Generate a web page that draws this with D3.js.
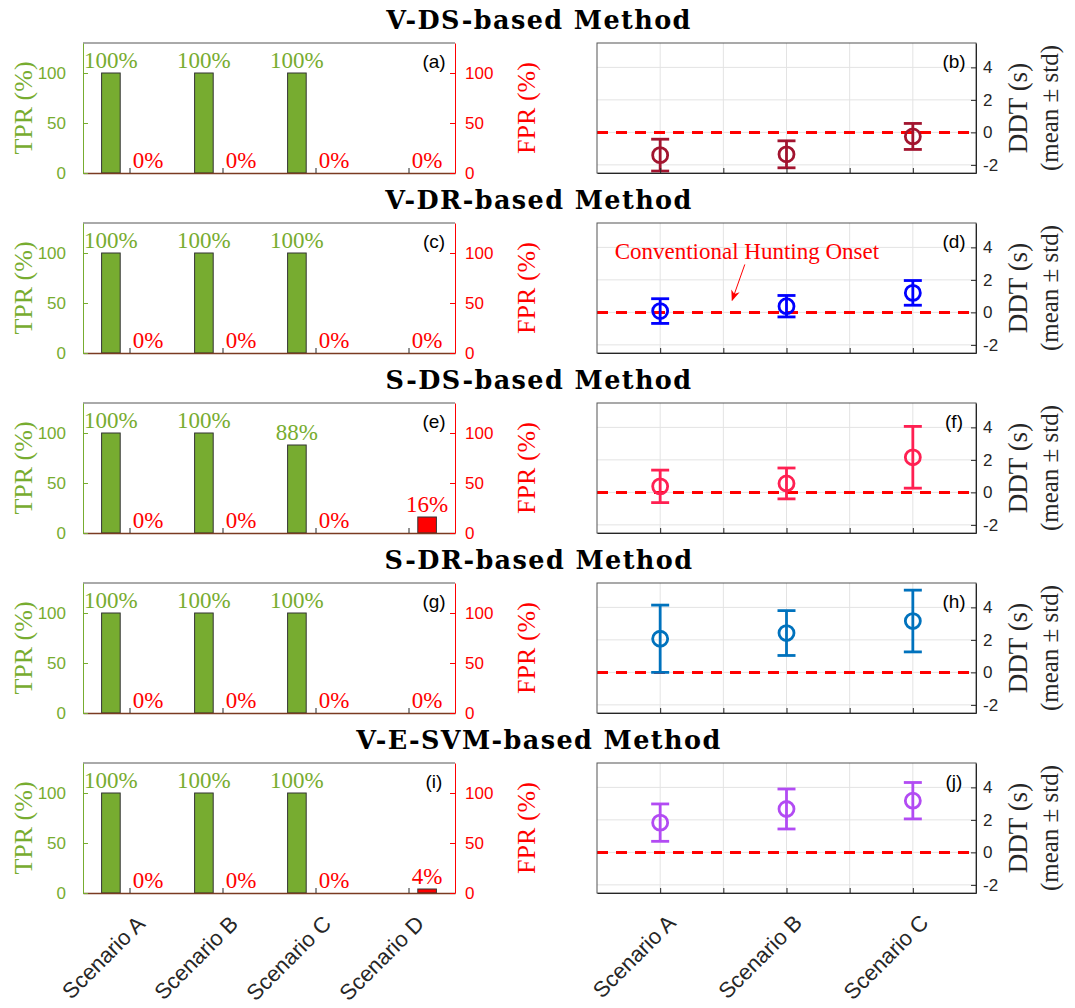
<!DOCTYPE html>
<html>
<head>
<meta charset="utf-8">
<script src="https://cdn.jsdelivr.net/npm/d3@7"></script>
<style>
  body { margin: 0; background: #fff; }
  svg { display: block; }
  .serif { font-family: "Liberation Serif", "DejaVu Serif", serif; }
  .title { font-family: "DejaVu Serif", "Liberation Serif", serif; font-weight: bold; letter-spacing: 1.4px; }
  .sans { font-family: "Liberation Sans", Arial, sans-serif; }
</style>
</head>
<body>
<div id="vis"></div>
<script>
// ---- data ----
var methods = ["V-DS-based Method", "V-DR-based Method", "S-DS-based Method",
               "S-DR-based Method", "V-E-SVM-based Method"];
var panelTags = [["(a)", "(b)"], ["(c)", "(d)"], ["(e)", "(f)"], ["(g)", "(h)"], ["(i)", "(j)"]];
var scenarios = ["Scenario A", "Scenario B", "Scenario C", "Scenario D"];
var ddtScenarios = ["Scenario A", "Scenario B", "Scenario C"];

// TPR / FPR in %, null = no detection case (drawn flat, no label)
var tpr = [
  [100, 100, 100, null],
  [100, 100, 100, null],
  [100, 100, 88, null],
  [100, 100, 100, null],
  [100, 100, 100, null]
];
var fpr = [
  [0, 0, 0, 0],
  [0, 0, 0, 0],
  [0, 0, 0, 16],
  [0, 0, 0, 0],
  [0, 0, 0, 4]
];

// detection delay time (s), mean and std
var ddtMean = [
  [-1.4, -1.35, -0.25],
  [0.08, 0.38, 1.2],
  [0.37, 0.55, 2.16],
  [2.07, 2.42, 3.16],
  [1.83, 2.67, 3.18]
];
var ddtStd = [
  [0.98, 0.83, 0.8],
  [0.76, 0.66, 0.76],
  [1.0, 0.95, 1.9],
  [2.07, 1.38, 1.9],
  [1.15, 1.23, 1.12]
];
var ddtColors = ["#A2142F", "#0000FF", "#FF2052", "#0072BD", "#B24BF3"];

var rateTicks = [0, 50, 100];
var ddtTicks = [-2, 0, 2, 4];
var ddtGridX = [1, 1.5, 2, 2.5, 3];
var onsetLevel = 0;

// annotation in panel (d), data units
var note = { text: "Conventional Hunting Onset", x: 0.64, y: 3.3, from: [1.67, 2.95], to: [1.57, 0.75] };

// ---- layout ----
var W = 1075, H = 1008;
var green = "#77AC30", red = "#FF0000", axisGray = "#262626";
var panelH = 130, firstTop = 43, step = 180;

var svg = d3.select("#vis").append("svg").attr("width", W).attr("height", H);
svg.append("rect").attr("width", W).attr("height", H).attr("fill", "#fff");

var defs = svg.append("defs");
defs.append("marker").attr("id", "arrowHead")
  .attr("viewBox", "0 0 10 10").attr("refX", 9).attr("refY", 5)
  .attr("markerUnits", "userSpaceOnUse")
  .attr("markerWidth", 11).attr("markerHeight", 11).attr("orient", "auto")
  .append("path").attr("d", "M0,1 L10,5 L0,9 L3,5 Z").attr("fill", red);

var xBar = d3.scaleLinear().domain([0.5, 4.5]).range([83, 455]);
var xDdt = d3.scaleLinear().domain([0.5, 3.5]).range([597, 976]);
var barW = xBar(1.2) - xBar(1);

methods.forEach(function(title, i) {
  var top = firstTop + i * step, bottom = top + panelH;
  var last = i === methods.length - 1;

  svg.append("text").attr("class", "title")
    .attr("x", 539).attr("y", top - 14)
    .attr("text-anchor", "middle").attr("font-size", 25.5)
    .attr("fill", "#000").text(title);

  // ---------- left: TPR / FPR bars ----------
  var yRate = d3.scaleLinear().domain([0, 130]).range([bottom, top]);
  var gL = svg.append("g");

  var bars = [];
  scenarios.forEach(function(s, j) {
    bars.push({ x: j + 1 - 0.2, v: tpr[i][j], kind: "tpr" });
    bars.push({ x: j + 1 + 0.2, v: fpr[i][j], kind: "fpr" });
  });

  gL.selectAll("rect.bar").data(bars).enter().append("rect")
    .attr("class", "bar")
    .attr("x", function(d) { return xBar(d.x) - barW / 2; })
    .attr("width", barW)
    .attr("y", function(d) { return yRate(d.v || 0); })
    .attr("height", function(d) { return yRate(0) - yRate(d.v || 0); })
    .attr("fill", function(d) { return d.kind === "tpr" ? green : red; })
    .attr("stroke", "#333").attr("stroke-width", 1);

  gL.selectAll("text.pct").data(bars.filter(function(d) { return d.v !== null; }))
    .enter().append("text").attr("class", "serif")
    .attr("x", function(d) { return xBar(d.x); })
    .attr("y", function(d) { return yRate(d.v) - 5; })
    .attr("text-anchor", "middle").attr("font-size", 23)
    .attr("fill", function(d) { return d.kind === "tpr" ? green : red; })
    .text(function(d) { return d.v + "%"; });

  // top frame line
  gL.append("line").attr("x1", 83).attr("x2", 455).attr("y1", top).attr("y2", top)
    .attr("stroke", "#555").attr("stroke-width", 1);

  var bx = gL.append("g").attr("transform", "translate(0," + bottom + ")")
    .call(d3.axisBottom(xBar).tickValues([1, 2, 3, 4]).tickSize(-5).tickSizeOuter(0).tickFormat(""));
  bx.select(".domain").attr("stroke", "#7a3b22").attr("stroke-width", 1.5);
  bx.selectAll(".tick line").attr("stroke", axisGray);

  var ax = gL.append("g").attr("transform", "translate(83,0)")
    .call(d3.axisLeft(yRate).tickValues(rateTicks).tickSize(-5).tickSizeOuter(0).tickPadding(17));
  ax.select(".domain").attr("stroke", green);
  ax.selectAll(".tick line").attr("stroke", green);
  ax.selectAll(".tick text").attr("class", "sans").attr("font-size", 17).attr("fill", green);

  var ay = gL.append("g").attr("transform", "translate(455,0)")
    .call(d3.axisRight(yRate).tickValues(rateTicks).tickSize(-5).tickSizeOuter(0).tickPadding(10));
  ay.select(".domain").attr("stroke", red);
  ay.selectAll(".tick line").attr("stroke", red);
  ay.selectAll(".tick text").attr("class", "sans").attr("font-size", 17).attr("fill", red);

  gL.append("text").attr("class", "serif")
    .attr("transform", "translate(32," + (top + panelH / 2) + ") rotate(-90)")
    .attr("text-anchor", "middle").attr("font-size", 26).attr("fill", green).text("TPR (%)");
  gL.append("text").attr("class", "serif")
    .attr("transform", "translate(535," + (top + panelH / 2) + ") rotate(-90)")
    .attr("text-anchor", "middle").attr("font-size", 26).attr("fill", red).text("FPR (%)");

  gL.append("text").attr("class", "sans")
    .attr("x", 434).attr("y", top + 25).attr("text-anchor", "middle")
    .attr("font-size", 19).attr("fill", "#000").text(panelTags[i][0]);

  if (last) {
    gL.selectAll("text.scen").data(scenarios).enter().append("text").attr("class", "sans")
      .attr("transform", function(d, j) {
        return "translate(" + (xBar(j + 1) + 17) + "," + (bottom + 32) + ") rotate(-45)";
      })
      .attr("text-anchor", "end").attr("font-size", 22).attr("fill", axisGray).text(function(d) { return d; });
  }

  // ---------- right: DDT error bars ----------
  var yDdt = d3.scaleLinear().domain([-2.5, 5.5]).range([bottom, top]);
  var gR = svg.append("g");

  gR.selectAll("line.gx").data(ddtGridX).enter().append("line")
    .attr("x1", function(d) { return xDdt(d); }).attr("x2", function(d) { return xDdt(d); })
    .attr("y1", top).attr("y2", bottom).attr("stroke", "#e3e3e3").attr("stroke-width", 1);
  gR.selectAll("line.gy").data(ddtTicks).enter().append("line")
    .attr("x1", xDdt(0.5)).attr("x2", xDdt(3.5))
    .attr("y1", function(d) { return yDdt(d); }).attr("y2", function(d) { return yDdt(d); })
    .attr("stroke", "#e3e3e3").attr("stroke-width", 1);

  gR.append("line").attr("x1", xDdt(0.5)).attr("x2", xDdt(3.5))
    .attr("y1", yDdt(onsetLevel)).attr("y2", yDdt(onsetLevel))
    .attr("stroke", red).attr("stroke-width", 3).attr("stroke-dasharray", "11,8");

  var pts = ddtScenarios.map(function(s, j) {
    return { x: j + 1, m: ddtMean[i][j], s: ddtStd[i][j] };
  });
  var col = ddtColors[i];
  var eb = gR.selectAll("g.eb").data(pts).enter().append("g");
  eb.append("line")
    .attr("x1", function(d) { return xDdt(d.x); }).attr("x2", function(d) { return xDdt(d.x); })
    .attr("y1", function(d) { return yDdt(d.m - d.s); }).attr("y2", function(d) { return yDdt(d.m + d.s); })
    .attr("stroke", col).attr("stroke-width", 2.8);
  [-1, 1].forEach(function(sgn) {
    eb.append("line")
      .attr("x1", function(d) { return xDdt(d.x) - 9; }).attr("x2", function(d) { return xDdt(d.x) + 9; })
      .attr("y1", function(d) { return yDdt(d.m + sgn * d.s); }).attr("y2", function(d) { return yDdt(d.m + sgn * d.s); })
      .attr("stroke", col).attr("stroke-width", 2.8);
  });
  eb.append("circle")
    .attr("cx", function(d) { return xDdt(d.x); }).attr("cy", function(d) { return yDdt(d.m); })
    .attr("r", 7.5).attr("fill", "none").attr("stroke", col).attr("stroke-width", 2.8);

  gR.append("rect").attr("x", xDdt(0.5)).attr("y", top)
    .attr("width", xDdt(3.5) - xDdt(0.5)).attr("height", panelH)
    .attr("fill", "none").attr("stroke", "#555").attr("stroke-width", 1);

  var rb = gR.append("g").attr("transform", "translate(0," + bottom + ")")
    .call(d3.axisBottom(xDdt).tickValues(ddtGridX).tickSize(-5).tickSizeOuter(0).tickFormat(""));
  rb.select(".domain").attr("stroke", axisGray);
  rb.selectAll(".tick line").attr("stroke", axisGray);

  var ry = gR.append("g").attr("transform", "translate(" + xDdt(3.5) + ",0)")
    .call(d3.axisRight(yDdt).tickValues(ddtTicks).tickSize(-5).tickSizeOuter(0).tickPadding(7)
      .tickFormat(function(d) { return String(d); }));
  ry.select(".domain").attr("stroke", axisGray);
  ry.selectAll(".tick line").attr("stroke", axisGray);
  ry.selectAll(".tick text").attr("class", "sans").attr("font-size", 17).attr("fill", axisGray);

  gR.append("text").attr("class", "sans")
    .attr("x", 954).attr("y", top + 25).attr("text-anchor", "middle")
    .attr("font-size", 19).attr("fill", "#000").text(panelTags[i][1]);

  gR.append("text").attr("class", "serif")
    .attr("transform", "translate(1027," + (top + panelH / 2) + ") rotate(-90)")
    .attr("text-anchor", "middle").attr("font-size", 27).attr("fill", axisGray).text("DDT (s)");
  gR.append("text").attr("class", "serif")
    .attr("transform", "translate(1058," + (top + panelH / 2) + ") rotate(-90)")
    .attr("text-anchor", "middle").attr("font-size", 25).attr("fill", axisGray).text("(mean \u00b1 std)");

  if (i === 1) {
    gR.append("text").attr("class", "serif")
      .attr("x", xDdt(note.x)).attr("y", yDdt(note.y))
      .attr("font-size", 23).attr("fill", red).text(note.text);
    gR.append("line")
      .attr("x1", xDdt(note.from[0])).attr("y1", yDdt(note.from[1]))
      .attr("x2", xDdt(note.to[0])).attr("y2", yDdt(note.to[1]))
      .attr("stroke", red).attr("stroke-width", 1).attr("marker-end", "url(#arrowHead)");
  }

  if (last) {
    gR.selectAll("text.scen").data(ddtScenarios).enter().append("text").attr("class", "sans")
      .attr("transform", function(d, j) {
        return "translate(" + (xDdt(j + 1) + 17) + "," + (bottom + 31) + ") rotate(-45)";
      })
      .attr("text-anchor", "end").attr("font-size", 22).attr("fill", axisGray).text(function(d) { return d; });
  }
});
</script>
</body>
</html>
